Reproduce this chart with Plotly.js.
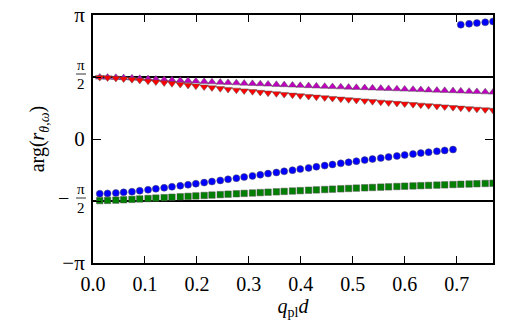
<!DOCTYPE html>
<html>
<head>
<meta charset="utf-8">
<script src="https://cdn.plot.ly/plotly-3.0.1.min.js"></script>
<style>
  html, body { margin: 0; padding: 0; background: #fff; }
  #chart { width: 519px; height: 321px; }
</style>
</head>
<body>
<div id="chart"></div>
<script>
// q_pl * d sampling
const qd = [0.013, 0.028, 0.044, 0.059, 0.075, 0.090, 0.106, 0.121, 0.137, 0.152,
            0.168, 0.183, 0.198, 0.214, 0.229, 0.245, 0.260, 0.276, 0.291, 0.307,
            0.322, 0.337, 0.353, 0.368, 0.384, 0.399, 0.415, 0.430, 0.446, 0.461,
            0.477, 0.492, 0.507, 0.523, 0.538, 0.554, 0.569, 0.585, 0.600, 0.616,
            0.631, 0.646, 0.662, 0.677, 0.693, 0.708, 0.724, 0.739, 0.755, 0.770];

// phase of r_{theta,omega} for the four configurations (radians)
const phaseBlue = [-1.385, -1.378, -1.367, -1.352, -1.334, -1.310, -1.286, -1.261, -1.236, -1.210,
                   -1.184, -1.158, -1.131, -1.104, -1.077, -1.049, -1.021, -0.993, -0.964, -0.935,
                   -0.906, -0.877, -0.848, -0.819, -0.790, -0.761, -0.732, -0.703, -0.674, -0.645,
                   -0.617, -0.589, -0.561, -0.534, -0.507, -0.481, -0.455, -0.430, -0.405, -0.381,
                   -0.357, -0.334, -0.311, -0.289, -0.267, 2.897, 2.918, 2.938, 2.958, 2.978];

const phaseGreen = [-1.560, -1.556, -1.549, -1.540, -1.530, -1.519, -1.508, -1.497, -1.486, -1.475,
                    -1.464, -1.453, -1.442, -1.431, -1.420, -1.409, -1.398, -1.388, -1.378, -1.368,
                    -1.358, -1.348, -1.338, -1.328, -1.318, -1.308, -1.298, -1.289, -1.280, -1.271,
                    -1.262, -1.253, -1.244, -1.236, -1.228, -1.220, -1.212, -1.204, -1.196, -1.189,
                    -1.182, -1.175, -1.168, -1.161, -1.154, -1.147, -1.140, -1.133, -1.127, -1.121];

const phaseMagenta = [1.566, 1.563, 1.558, 1.551, 1.543, 1.534, 1.524, 1.514, 1.504, 1.494,
                      1.484, 1.474, 1.464, 1.455, 1.446, 1.437, 1.428, 1.420, 1.412, 1.404,
                      1.396, 1.388, 1.380, 1.372, 1.364, 1.356, 1.348, 1.340, 1.332, 1.325,
                      1.318, 1.311, 1.304, 1.297, 1.290, 1.283, 1.276, 1.269, 1.262, 1.255,
                      1.248, 1.241, 1.234, 1.227, 1.220, 1.213, 1.206, 1.199, 1.192, 1.185];

const phaseRed = [1.562, 1.553, 1.541, 1.526, 1.509, 1.490, 1.469, 1.448, 1.427, 1.406,
                  1.385, 1.364, 1.343, 1.322, 1.301, 1.280, 1.260, 1.241, 1.222, 1.204,
                  1.186, 1.168, 1.150, 1.132, 1.115, 1.098, 1.081, 1.064, 1.047, 1.031,
                  1.015, 0.999, 0.983, 0.967, 0.951, 0.936, 0.921, 0.906, 0.891, 0.876,
                  0.861, 0.846, 0.831, 0.816, 0.801, 0.786, 0.771, 0.757, 0.743, 0.729];

// axis ticks
const xTickVals = [0.0, 0.1, 0.2, 0.3, 0.4, 0.5, 0.6, 0.7];
const xTickText = ["0.0", "0.1", "0.2", "0.3", "0.4", "0.5", "0.6", "0.7"];
const yTickVals = [-Math.PI, -Math.PI / 2, 0, Math.PI / 2, Math.PI];
const yTickText = ["\u2212\u03c0", "", "0", "", "\u03c0"];
// half-pi reference levels
const refLevels = [Math.PI / 2, -Math.PI / 2];

const serif = "'Liberation Serif', 'DejaVu Serif', serif";
const edge = { color: "#555", width: 0.5 };

function series(y, symbol, color, size) {
  return {
    x: qd, y: y, type: "scatter", mode: "markers", cliponaxis: true,
    marker: { symbol: symbol, color: color, size: size, line: edge },
    hoverinfo: "skip", showlegend: false
  };
}

const traces = [
  series(phaseBlue, "circle", "#0000ff", 7),
  series(phaseGreen, "square", "#007f00", 6.5),
  series(phaseMagenta, "triangle-up", "#bf00bf", 7.5),
  series(phaseRed, "triangle-down", "#ff0000", 7.5)
];

const shapes = refLevels.map(v => ({
  type: "line", xref: "paper", yref: "y", x0: 0, x1: 1, y0: v, y1: v,
  line: { color: "#000", width: 1.8 }, layer: "below"
}));

// stacked fraction labels for +/- pi/2
const annotations = [];
[Math.PI / 2, -Math.PI / 2].forEach(v => {
  annotations.push({ xref: "paper", yref: "y", x: 0, y: v, xanchor: "center", yanchor: "bottom",
    xshift: -12, yshift: 3, text: "\u03c0", showarrow: false, borderpad: 0,
    font: { family: serif, size: 15, color: "#000" } });
  annotations.push({ xref: "paper", yref: "y", x: 0, y: v, xanchor: "center", yanchor: "top",
    xshift: -12, yshift: 2, text: "2", showarrow: false, borderpad: 0,
    font: { family: serif, size: 15, color: "#000" } });
  shapes.push({ type: "line", xref: "paper", yref: "y", xsizemode: "pixel", ysizemode: "pixel",
    xanchor: 0, yanchor: v, x0: -17, x1: -7, y0: 3, y1: 3,
    line: { color: "#000", width: 0.8 } });
  if (v < 0) {
    annotations.push({ xref: "paper", yref: "y", x: 0, y: v, xanchor: "center", yanchor: "middle",
      xshift: -30, yshift: 3, text: "\u2212", showarrow: false, font: { family: serif, size: 20, color: "#000" } });
  }
});

const layout = {
  width: 519, height: 321,
  margin: { l: 93, r: 26, t: 15, b: 58, pad: 0 },
  paper_bgcolor: "#fff", plot_bgcolor: "#fff",
  font: { family: serif, color: "#000", size: 20 },
  xaxis: {
    range: [0, 0.770], tickvals: xTickVals, ticktext: xTickText,
    ticks: "inside", ticklen: 7, tickwidth: 1, tickcolor: "#000",
    showline: true, linewidth: 2, linecolor: "#000", mirror: "ticks",
    showgrid: false, zeroline: false, ticklabelstandoff: 2,
    tickfont: { family: serif, size: 20, color: "#000" },
    title: { text: "<i>q</i><sub>pl</sub><i>d</i>", font: { family: serif, size: 20, color: "#000" }, standoff: 3 }
  },
  yaxis: {
    range: [-Math.PI, Math.PI], tickvals: yTickVals, ticktext: yTickText,
    ticks: "inside", ticklen: 8, tickwidth: 1, tickcolor: "#000",
    showline: true, linewidth: 2, linecolor: "#000", mirror: "ticks",
    showgrid: false, zeroline: false, ticklabelstandoff: 2,
    tickfont: { family: serif, size: 21, color: "#000" },
    title: { text: "arg(<i>r</i><sub><i>\u03b8,\u03c9</i></sub>)", font: { family: serif, size: 20, color: "#000" }, standoff: 12 }
  },
  shapes: shapes,
  annotations: annotations
};

Plotly.newPlot("chart", traces, layout, { staticPlot: true, displayModeBar: false });
</script>
</body>
</html>
